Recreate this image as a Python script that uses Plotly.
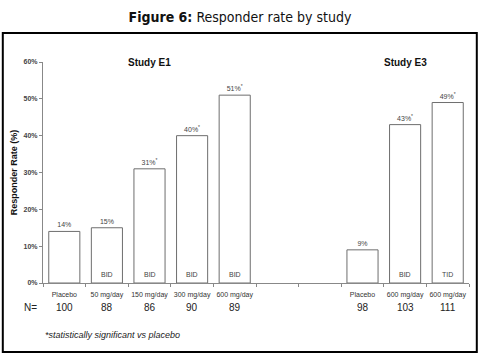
import plotly.graph_objects as go

# ---- data ----
slot_labels = ["Placebo", "50 mg/day", "150 mg/day", "300 mg/day", "600 mg/day",
               "", "", "Placebo", "600 mg/day", "600 mg/day"]
rates = [14, 15, 31, 40, 51, None, None, 9, 43, 49]
significant = [False, False, True, True, True, None, None, False, True, True]
regimen = ["", "BID", "BID", "BID", "BID", "", "", "", "BID", "TID"]
n_values = [100, 88, 86, 90, 89, None, None, 98, 103, 111]
studies = ["Study E1", "Study E3"]
study_centers = [2, 8]
y_ticks = [0, 10, 20, 30, 40, 50, 60]

FONT = "Liberation Sans"
x_pos = list(range(len(slot_labels)))

bar_x, bar_y, bar_text = [], [], []
for x, r, s in zip(x_pos, rates, significant):
    if r is not None:
        bar_x.append(x)
        bar_y.append(r)
        bar_text.append(f"{r}%" + ("<sup>*</sup>" if s else ""))

fig = go.Figure()
fig.add_trace(go.Bar(
    x=bar_x, y=bar_y, width=0.73,
    marker=dict(color="white", line=dict(color="#6e6e6e", width=1)),
    text=bar_text, textposition="outside", cliponaxis=False,
    textfont=dict(family=FONT, size=7, color="#444"),
    hoverinfo="skip",
))

annotations = []
# regimen labels inside bars
for x, reg in zip(x_pos, regimen):
    if reg:
        annotations.append(dict(x=x, y=0, text=reg, showarrow=False, yanchor="bottom",
                                xanchor="center", yshift=3,
                                font=dict(family=FONT, size=7, color="#444")))
# N row
annotations.append(dict(xref="paper", yref="paper", x=-0.03, y=-0.113, text="N=",
                        xanchor="center", yanchor="middle",
                        showarrow=False, font=dict(family=FONT, size=10, color="#222")))
for x, n in zip(x_pos, n_values):
    if n is not None:
        annotations.append(dict(x=x, yref="paper", y=-0.113, text=str(n), showarrow=False,
                                xanchor="center", yanchor="middle",
                                font=dict(family=FONT, size=10, color="#222")))
# study labels
for s, c in zip(studies, study_centers):
    annotations.append(dict(x=c, y=60, text=f"<b>{s}</b>", showarrow=False,
                            xanchor="center", yanchor="middle",
                            font=dict(family=FONT, size=10, color="#111")))
# y-axis title
annotations.append(dict(xref="paper", yref="paper", x=-0.0685, y=0.5,
                        text="<b>Responder Rate (%)</b>", xanchor="center", yanchor="middle",
                        textangle=-90, showarrow=False,
                        font=dict(family=FONT, size=9, color="#111")))
# footnote
annotations.append(dict(xref="paper", yref="paper", x=0.0, y=-0.235, xanchor="left",
                        yanchor="middle",
                        text="<i>*statistically significant vs placebo</i>", showarrow=False,
                        font=dict(family=FONT, size=9, color="#222")))

tick_x = [x for x, lab in zip(x_pos, slot_labels) if lab]
tick_t = [lab for lab in slot_labels if lab]

fig.update_layout(
    width=480, height=356,
    margin=dict(l=43, r=11, t=62, b=73),
    paper_bgcolor="white", plot_bgcolor="white",
    showlegend=False,
    title=dict(text="<b>Figure 6:</b> Responder rate by study", x=0.5, xanchor="center",
               y=1 - 17 / 356, yanchor="middle",
               font=dict(family="DejaVu Sans Condensed, Liberation Sans Narrow, Liberation Sans",
                         size=14, color="#111")),
    annotations=annotations,
    shapes=[dict(type="rect", xref="paper", yref="paper",
                 x0=(3 - 43.2) / 426, x1=(477 - 43.2) / 426,
                 y0=(283 - 352) / 221, y1=(283 - 33) / 221,
                 line=dict(color="black", width=2))],
)
fig.update_xaxes(
    range=[-0.5, 9.5], tickmode="array", tickvals=tick_x, ticktext=tick_t,
    ticks="", showgrid=False, zeroline=False, ticklabelstandoff=5,
    showline=True, linecolor="#888", linewidth=1,
    tickfont=dict(family=FONT, size=7, color="#333"),
    minor=dict(ticks="outside", tick0=0.5, dtick=1, ticklen=3, tickcolor="#888", showgrid=False),
)
fig.update_yaxes(
    range=[0, 60], tickvals=y_ticks, ticktext=[f"<b>{v}%</b>" for v in y_ticks],
    ticks="outside", ticklen=3, tickcolor="#888",
    showgrid=False, zeroline=False, showline=True, linecolor="#888", linewidth=1,
    tickfont=dict(family=FONT, size=7, color="#444"),
)

fig.write_html("out.html", config={"displayModeBar": False},
               post_script="document.body.style.margin='0';")
